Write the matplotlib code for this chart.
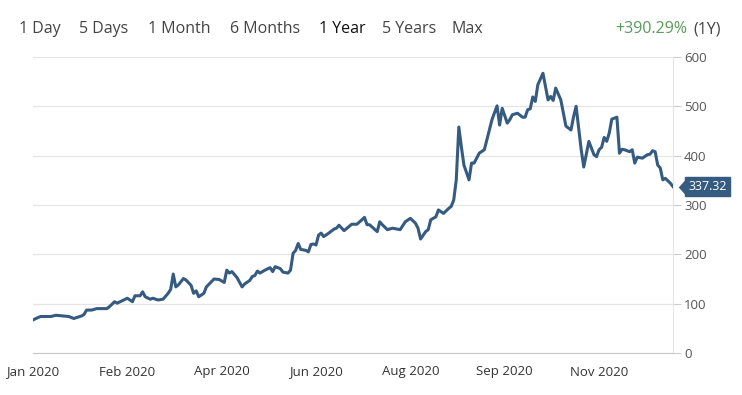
import numpy as np
import matplotlib
matplotlib.use("Agg")
import matplotlib.pyplot as plt
import matplotlib.transforms as mtrans

# trading-day index (0 = first session of 2020) and closing price
days = [0, 2, 3, 7, 9, 12, 14, 16, 19, 20, 21, 23, 25, 29, 30, 32, 33, 35, 37, 39,
        40, 42, 43, 44, 46, 47, 49, 51, 53, 54, 55, 56, 57, 59, 60, 62, 63, 64, 65, 67,
        68, 71, 73, 75, 76, 77, 78, 80, 82, 83, 85, 86, 87, 88, 89, 91, 93, 94, 95, 97,
        98, 100, 101, 102, 103, 104, 105, 107, 108, 109, 110, 111, 112, 113, 114, 116, 118, 119, 120, 122,
        125, 127, 129, 130, 131, 132, 135, 136, 137, 139, 141, 144, 146, 148, 150, 151, 152, 154, 155, 156,
        158, 159, 161, 163, 164, 165, 166, 167, 168, 169, 171, 172, 173, 175, 177, 178, 180, 182, 183, 184,
        186, 187, 188, 190, 192, 193, 194, 195, 196, 197, 198, 200, 201, 202, 203, 204, 205, 207, 209, 211,
        212, 213, 215, 216, 218, 220, 221, 222, 223, 224, 225, 226, 227, 229, 230, 231, 232, 234, 235, 236,
        237, 239, 241, 242, 243, 244, 245, 246, 247, 248, 250, 251]
price = [67, 72, 74, 74, 76.5, 75, 74, 70, 75, 78, 87, 87, 90, 90, 94, 104, 101, 106, 111, 104,
         116, 116, 124, 114, 109, 111, 107.5, 109, 121, 129, 160, 134, 138, 151, 148, 137, 121, 126, 114, 121,
         134, 150, 149, 143, 168, 162, 165, 153, 134, 140, 147, 155, 157, 166, 162, 168, 173, 165, 175, 171,
         164, 162, 168, 202, 208, 222, 210, 208, 205, 220, 221, 219, 239, 243, 236, 243, 251, 253, 259, 248,
         261, 261, 270, 275, 260, 260, 246, 266, 260, 250, 253, 250, 266, 273, 263, 253, 231, 246, 250, 270,
         276, 290, 283, 293, 297, 310, 351, 458, 418, 381, 351, 385, 385, 405, 412, 432, 473, 501, 462, 496,
         466, 473, 483, 486, 478, 478, 493, 495, 519, 510, 544, 567, 540, 513, 520, 512, 537, 513, 460, 452,
         479, 500, 412, 377, 429, 402, 398, 412, 417, 437, 429, 446, 474, 478, 405, 413, 412, 408, 412, 385,
         397, 395, 402, 403, 410, 408, 381, 375, 351, 354, 344, 337.32]

tick_days = [0, 37, 74, 111, 148, 185, 222]
tick_labels = ["Jan 2020", "Feb 2020", "Apr 2020", "Jun 2020", "Aug 2020", "Sep 2020", "Nov 2020"]
y_ticks = [0, 100, 200, 300, 400, 500, 600]
ranges = ["1 Day", "5 Days", "1 Month", "6 Months", "1 Year", "5 Years", "Max"]
range_x = [19, 79, 148, 230, 319, 382, 452]
last_price = 337.32

plt.rcParams['font.family'] = ['Open Sans', 'DejaVu Sans']
line_color = "#365b80"

fig = plt.figure(figsize=(7.42, 3.95), dpi=100)
ax = fig.add_axes([33 / 742, 42 / 395, 640 / 742, 296 / 395])

ax.plot(days, price, color=line_color, lw=2.2, solid_joinstyle="round", zorder=3)

ax.set_xlim(0, 251)
ax.set_ylim(0, 600)
ax.set_xticks(tick_days)
ax.set_xticklabels(tick_labels)
ax.set_yticks(y_ticks)
ax.yaxis.tick_right()
ax.tick_params(axis="x", length=0, pad=9, labelsize=9.5, labelcolor="#333333")
ax.tick_params(axis="y", length=6, width=0.8, color="#cccccc", pad=2,
               labelsize=9.5, labelcolor="#555555")
ax.grid(axis="y", color="#e6e6e6", lw=0.9)
for s in ["top", "left"]:
    ax.spines[s].set_visible(False)
ax.spines["bottom"].set_color("#c8c8c8")
ax.spines["right"].set_color("#e6e6e6")

# last price tag
blend = mtrans.blended_transform_factory(ax.transAxes, ax.transData)
ax.annotate(f"{last_price:.2f}", xy=(1.0, last_price), xycoords=blend,
            xytext=(11.2, 0), textcoords="offset points", ha="left", va="center",
            color="white", fontsize=9.0,
            bbox=dict(boxstyle="square,pad=0.25", fc=line_color, ec=line_color), zorder=5,
            annotation_clip=False)
notch = [(-1.8, 0), (0, -2), (0, 2), (-1.8, 0)]
ax.plot([1.0], [last_price], marker=notch, ms=14.0, color=line_color, mew=0,
        transform=mtrans.offset_copy(blend, fig=fig, x=13.5, units="dots"),
        clip_on=False, zorder=4)

# range selector
for lbl, x in zip(ranges, range_x):
    fig.text(x / 742, 1 - 29 / 395, lbl, ha="left", va="center", fontsize=11.5,
             color="#111111" if lbl == "1 Year" else "#444444")
fig.text(687 / 742, 1 - 29 / 395, "+390.29%", ha="right", va="center", fontsize=11.5,
         color="#5b9a5b")
fig.text(721 / 742, 1 - 29 / 395, "(1Y)", ha="right", va="center", fontsize=11.5,
         color="#444444")

fig.savefig("out.png", dpi=100)
